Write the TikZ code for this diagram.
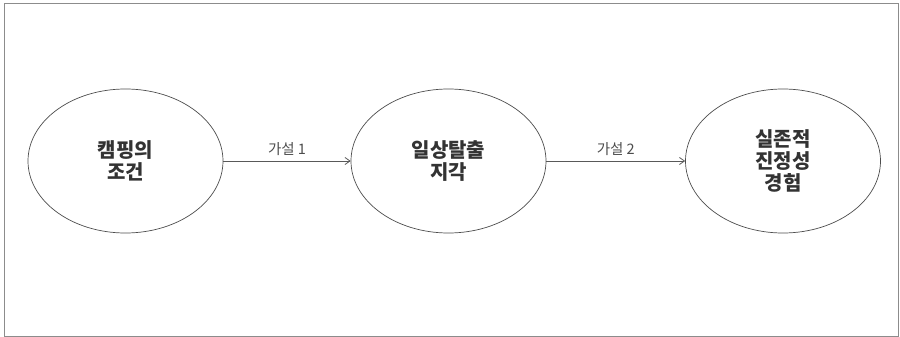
\documentclass[tikz,border=0pt]{standalone}
\usepackage{fontspec}
\newfontfamily\kr{Noto Sans CJK KR}
\usetikzlibrary{arrows.meta,shapes.geometric}
\begin{document}
\begin{tikzpicture}[x=1pt,y=-1pt,
  circ/.style={draw=black!70,line width=0.7pt,ellipse,minimum width=195pt,minimum height=144pt,inner sep=0pt,align=center,font=\kr\bfseries\fontsize{20}{22}\selectfont,text=black!80},
  conn/.style={draw=black!65,line width=0.8pt,-{Straight Barb[length=5pt,width=7pt]}},
  lbl/.style={font=\kr\fontsize{14.5}{16}\selectfont,text=black!70}]
\useasboundingbox (0,0) rectangle (900,337);
\draw[black!45,line width=1pt] (4,3.5) rectangle (898.5,336);
\node[circ] (a) at (125.5,161) {캠핑의\\조건};
\node[circ] (b) at (448.5,161) {일상탈출\\지각};
\node[circ] (c) at (783,161) {실존적\\진정성\\경험};
\draw[conn] (a) -- node[lbl,above=2pt] {가설 1} (b);
\draw[conn] (b) -- node[lbl,above=2pt] {가설 2} (c);
\end{tikzpicture}
\end{document}
